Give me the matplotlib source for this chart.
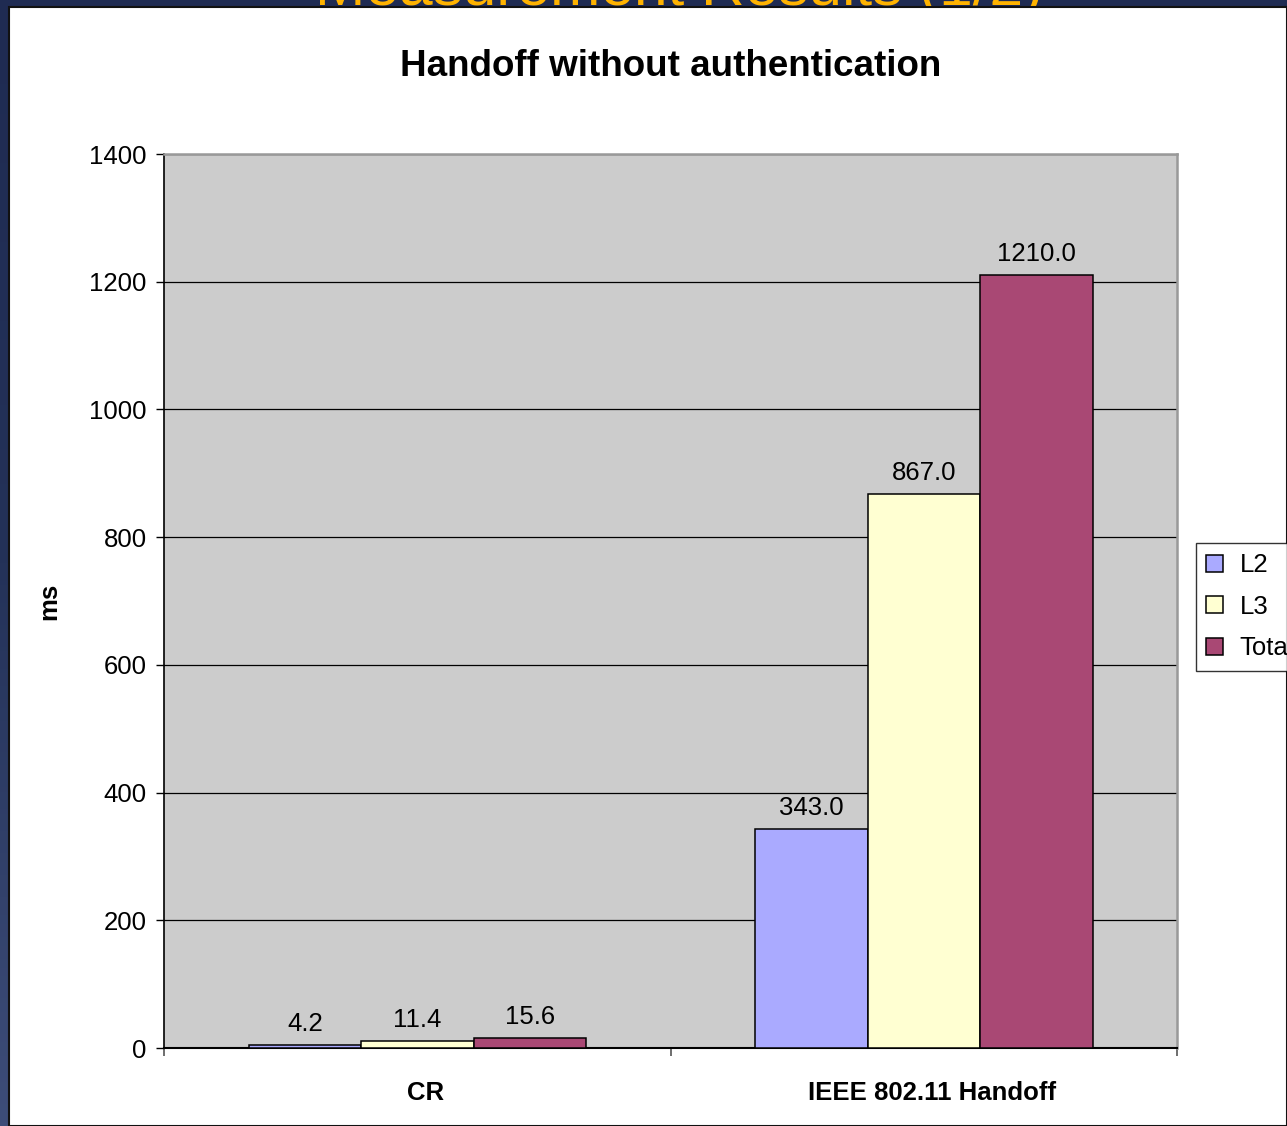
import matplotlib.pyplot as plt
import matplotlib.patches as mpatches
import numpy as np

plt.rcParams['font.family'] = ['Liberation Sans', 'DejaVu Sans']

categories = ["CR", "IEEE 802.11 Handoff"]
series_names = ["L2", "L3", "Total"]
l2_ms = [4.2, 343.0]
l3_ms = [11.4, 867.0]
total_ms = [15.6, 1210.0]
y_ticks = [0, 200, 400, 600, 800, 1000, 1200, 1400]

colors = ["#AAAAFF", "#FFFFD2", "#A94874"]

W, H = 1287, 1126
fig = plt.figure(figsize=(W / 100, H / 100), dpi=100, facecolor="#1f2b52")

# slide title peeking out above the pasted chart
fig.text(679 / W, 1 - 5 / H, "Measurement Results (1/2)", color="#FFB300",
         fontsize=43.5, ha="center", va="baseline", zorder=-3)

# left strip of the slide background, darker at top
strip = fig.add_axes([0, 0, 8 / W, 1], zorder=-2)
grad = np.linspace(0, 1, 256).reshape(-1, 1)
strip.imshow(grad, aspect="auto", cmap=plt.matplotlib.colors.LinearSegmentedColormap.from_list(
    "bg", ["#1f2b52", "#243259", "#3d4d79"]), extent=[0, 1, 0, 1])
strip.axis("off")

# white chart panel with its dark frame line
panel = mpatches.Rectangle((9 / W, 0), 1 - 9 / W, 1 - 7 / H, transform=fig.transFigure,
                           facecolor="white", edgecolor="#111111", linewidth=1.5, zorder=-1)
fig.patches.append(panel)

ax = fig.add_axes([164 / W, 1 - 1048 / H, (1177 - 164) / W, (1048 - 154) / H])
ax.set_facecolor("#CCCCCC")

x = np.arange(len(categories))
width = 112.5 / 506.5
for i, (name, vals) in enumerate(zip(series_names, [l2_ms, l3_ms, total_ms])):
    bars = ax.bar(x + (i - 1) * width, vals, width, color=colors[i],
                  edgecolor="black", linewidth=1.1, label=name, zorder=3)
    ax.bar_label(bars, fmt="%.1f", padding=6.5, fontsize=18.5)

ax.set_xlim(-0.5, 1.5)
ax.set_ylim(0, 1400)
ax.set_yticks(y_ticks)
ax.set_yticklabels([str(v) for v in y_ticks], fontsize=18.5)
ax.tick_params(axis="y", direction="out", length=6, width=1, pad=6.5, color="black")
ax.yaxis.grid(True, color="black", linewidth=0.9, zorder=1)
ax.set_axisbelow(True)

ax.set_xticks([-0.5, 0.5, 1.5])
ax.set_xticklabels([])
ax.tick_params(axis="x", which="major", direction="out", length=6, width=1.2, color="#555555")
# category names sit a touch right of the group centres
ax.set_xticks(x + 0.016, minor=True)
ax.set_xticklabels(categories, minor=True, fontsize=18.5, fontweight="bold")
ax.tick_params(axis="x", which="minor", length=0, pad=24)

ax.spines["left"].set_color("black")
ax.spines["bottom"].set_color("black")
ax.spines["left"].set_linewidth(1.2)
ax.spines["bottom"].set_linewidth(1.5)
for side in ["top", "right"]:
    ax.spines[side].set_color("#999999")
    ax.spines[side].set_linewidth(1.8)

ax.set_ylabel("ms", fontsize=18.5, fontweight="bold", labelpad=20)

fig.text(670.5 / W, 1 - 67 / H, "Handoff without authentication", fontsize=26.5,
         fontweight="bold", ha="center", va="center")

leg = fig.legend(loc="upper left", bbox_to_anchor=(1196 / W, 1 - 543 / H),
                 fontsize=18.5, frameon=True, fancybox=False, shadow=False,
                 handlelength=0.65, handleheight=0.65, handletextpad=0.65,
                 labelspacing=0.68, borderpad=0.4, borderaxespad=0)
leg.get_frame().set_edgecolor("black")
leg.get_frame().set_linewidth(1.0)

fig.savefig("out.png", dpi=100, facecolor=fig.get_facecolor())
